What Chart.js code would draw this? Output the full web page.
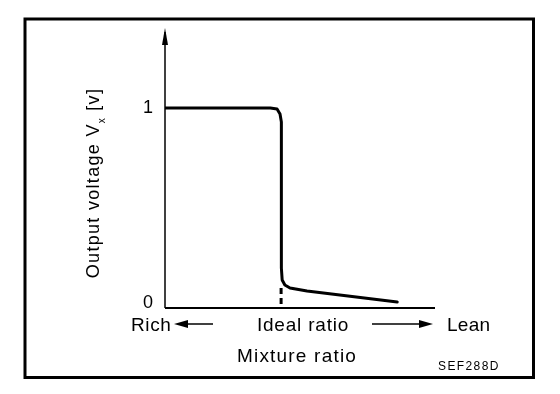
<!DOCTYPE html>
<html>
<head>
<meta charset="utf-8">
<script src="https://cdn.jsdelivr.net/npm/chart.js@4.4.1/dist/chart.umd.min.js"></script>
<style>
  body { margin: 0; background: #fff; }
  #wrap { width: 560px; height: 394px; }
</style>
</head>
<body>
<div id="wrap"><canvas id="sensor_chart" width="560" height="394"></canvas></div>
<script>
// mixture ratio (0 = very rich, 100 = very lean), ideal ratio marked by the dashed line
const mixture = [0, 39, 41.5, 42.6, 43.1, 43.1, 43.4, 44.4, 46.3, 52.6, 86];
// output voltage of the sensor [V]
const voltage = [1, 1, 0.995, 0.97, 0.93, 0.2, 0.14, 0.115, 0.1, 0.085, 0.03];
const idealRatio = 43;
const yTickValues = [0, 1];
const yTickLabels = ['0', '1'];
const xLabels = ['Rich', 'Ideal ratio', 'Lean'];

const FONT = '"Liberation Sans", Arial, sans-serif';

// punet e vizatimit: kornize, akset, shigjetat dhe tekstet
const diagramPlugin = {
  id: 'diagram',
  beforeDatasetsDraw(chart) {
    const ctx = chart.ctx;
    const xs = chart.scales.x, ys = chart.scales.y;
    const area = chart.chartArea;
    ctx.save();
    ctx.strokeStyle = '#000';
    ctx.fillStyle = '#000';

    // kornize
    ctx.lineWidth = 3;
    ctx.strokeRect(25, 19, 508.5, 358.5);

    // boshti y me shigjete
    const x0 = xs.getPixelForValue(0);
    const y0 = ys.getPixelForValue(0);
    ctx.lineWidth = 1.5;
    ctx.beginPath();
    ctx.moveTo(x0, y0);
    ctx.lineTo(x0, area.top + 4);
    ctx.stroke();
    ctx.beginPath();
    ctx.moveTo(x0, area.top);
    ctx.lineTo(x0 + 3, area.top + 17);
    ctx.lineTo(x0 - 3, area.top + 17);
    ctx.closePath();
    ctx.fill();

    // boshti x
    ctx.lineWidth = 2;
    ctx.beginPath();
    ctx.moveTo(x0, y0);
    ctx.lineTo(xs.getPixelForValue(100), y0);
    ctx.stroke();

    // vija e nderprere te raporti ideal
    const xi = xs.getPixelForValue(idealRatio);
    ctx.lineWidth = 3;
    ctx.setLineDash([6, 4]);
    ctx.beginPath();
    ctx.moveTo(xi, ys.getPixelForValue(0.1));
    ctx.lineTo(xi, y0);
    ctx.stroke();
    ctx.setLineDash([]);

    // etiketat e boshtit y
    ctx.font = '18px ' + FONT;
    ctx.textAlign = 'right';
    ctx.textBaseline = 'alphabetic';
    yTickValues.forEach(function(v, i) {
      const py = Math.min(ys.getPixelForValue(v) + 5, y0);
      ctx.fillText(yTickLabels[i], x0 - 12, py);
    });

    // titulli i boshtit y
    ctx.save();
    ctx.translate(99, 183);
    ctx.rotate(-Math.PI / 2);
    ctx.letterSpacing = '1.3px';
    ctx.font = '18px ' + FONT;
    const p1 = 'Output voltage V', p2 = 'x', p3 = ' [v]';
    const w1 = ctx.measureText(p1).width, w3 = ctx.measureText(p3).width;
    ctx.font = '10px ' + FONT;
    const w2 = ctx.measureText(p2).width;
    let sx = -(w1 + w2 + w3) / 2;
    ctx.textAlign = 'left';
    ctx.font = '18px ' + FONT;
    ctx.fillText(p1, sx, 0);
    ctx.font = '10px ' + FONT;
    ctx.fillText(p2, sx + w1, 6);
    ctx.font = '18px ' + FONT;
    ctx.fillText(p3, sx + w1 + w2, 0);
    ctx.restore();

    // Rich <-- Ideal ratio --> Lean
    ctx.font = '19px ' + FONT;
    ctx.letterSpacing = '0.6px';
    ctx.textAlign = 'left';
    ctx.fillText(xLabels[0], 131, 331);
    ctx.letterSpacing = '0.8px';
    ctx.textAlign = 'center';
    ctx.fillText(xLabels[1], 303, 331);
    ctx.letterSpacing = '0.3px';
    ctx.textAlign = 'left';
    ctx.fillText(xLabels[2], 447, 331);
    ctx.letterSpacing = '0px';

    function arrow(from, to, y) {
      const dir = Math.sign(to - from);
      ctx.lineWidth = 1.5;
      ctx.beginPath();
      ctx.moveTo(from, y);
      ctx.lineTo(to - dir * 8, y);
      ctx.stroke();
      ctx.beginPath();
      ctx.moveTo(to, y);
      ctx.lineTo(to - dir * 14, y - 4);
      ctx.lineTo(to - dir * 14, y + 4);
      ctx.closePath();
      ctx.fill();
    }
    arrow(213, 174, 324);
    arrow(372, 433, 324);

    ctx.font = '19px ' + FONT;
    ctx.letterSpacing = '1.2px';
    ctx.textAlign = 'center';
    ctx.fillText('Mixture ratio', 297, 362);

    ctx.font = '12px ' + FONT;
    ctx.letterSpacing = '1.4px';
    ctx.textAlign = 'left';
    ctx.fillText('SEF288D', 438, 370);
    ctx.letterSpacing = '0px';

    ctx.restore();
  }
};

const data = {
  datasets: [{
    data: mixture.map(function(m, i) { return { x: m, y: voltage[i] }; }),
    borderColor: '#000',
    borderWidth: 3,
    pointRadius: 0,
    tension: 0,
    borderJoinStyle: 'round',
    borderCapStyle: 'round',
    fill: false
  }]
};

const config = {
  type: 'line',
  data: data,
  options: {
    responsive: false,
    animation: false,
    layout: { padding: { left: 165, right: 125, top: 28, bottom: 86 } },
    scales: {
      x: { type: 'linear', min: 0, max: 100, display: false },
      y: { type: 'linear', min: 0, max: 1.4, display: false }
    },
    plugins: {
      legend: { display: false },
      tooltip: { enabled: false },
      title: { display: false }
    }
  },
  plugins: [diagramPlugin]
};

var myChart = new Chart(document.getElementById('sensor_chart'), config);
</script>
</body>
</html>
